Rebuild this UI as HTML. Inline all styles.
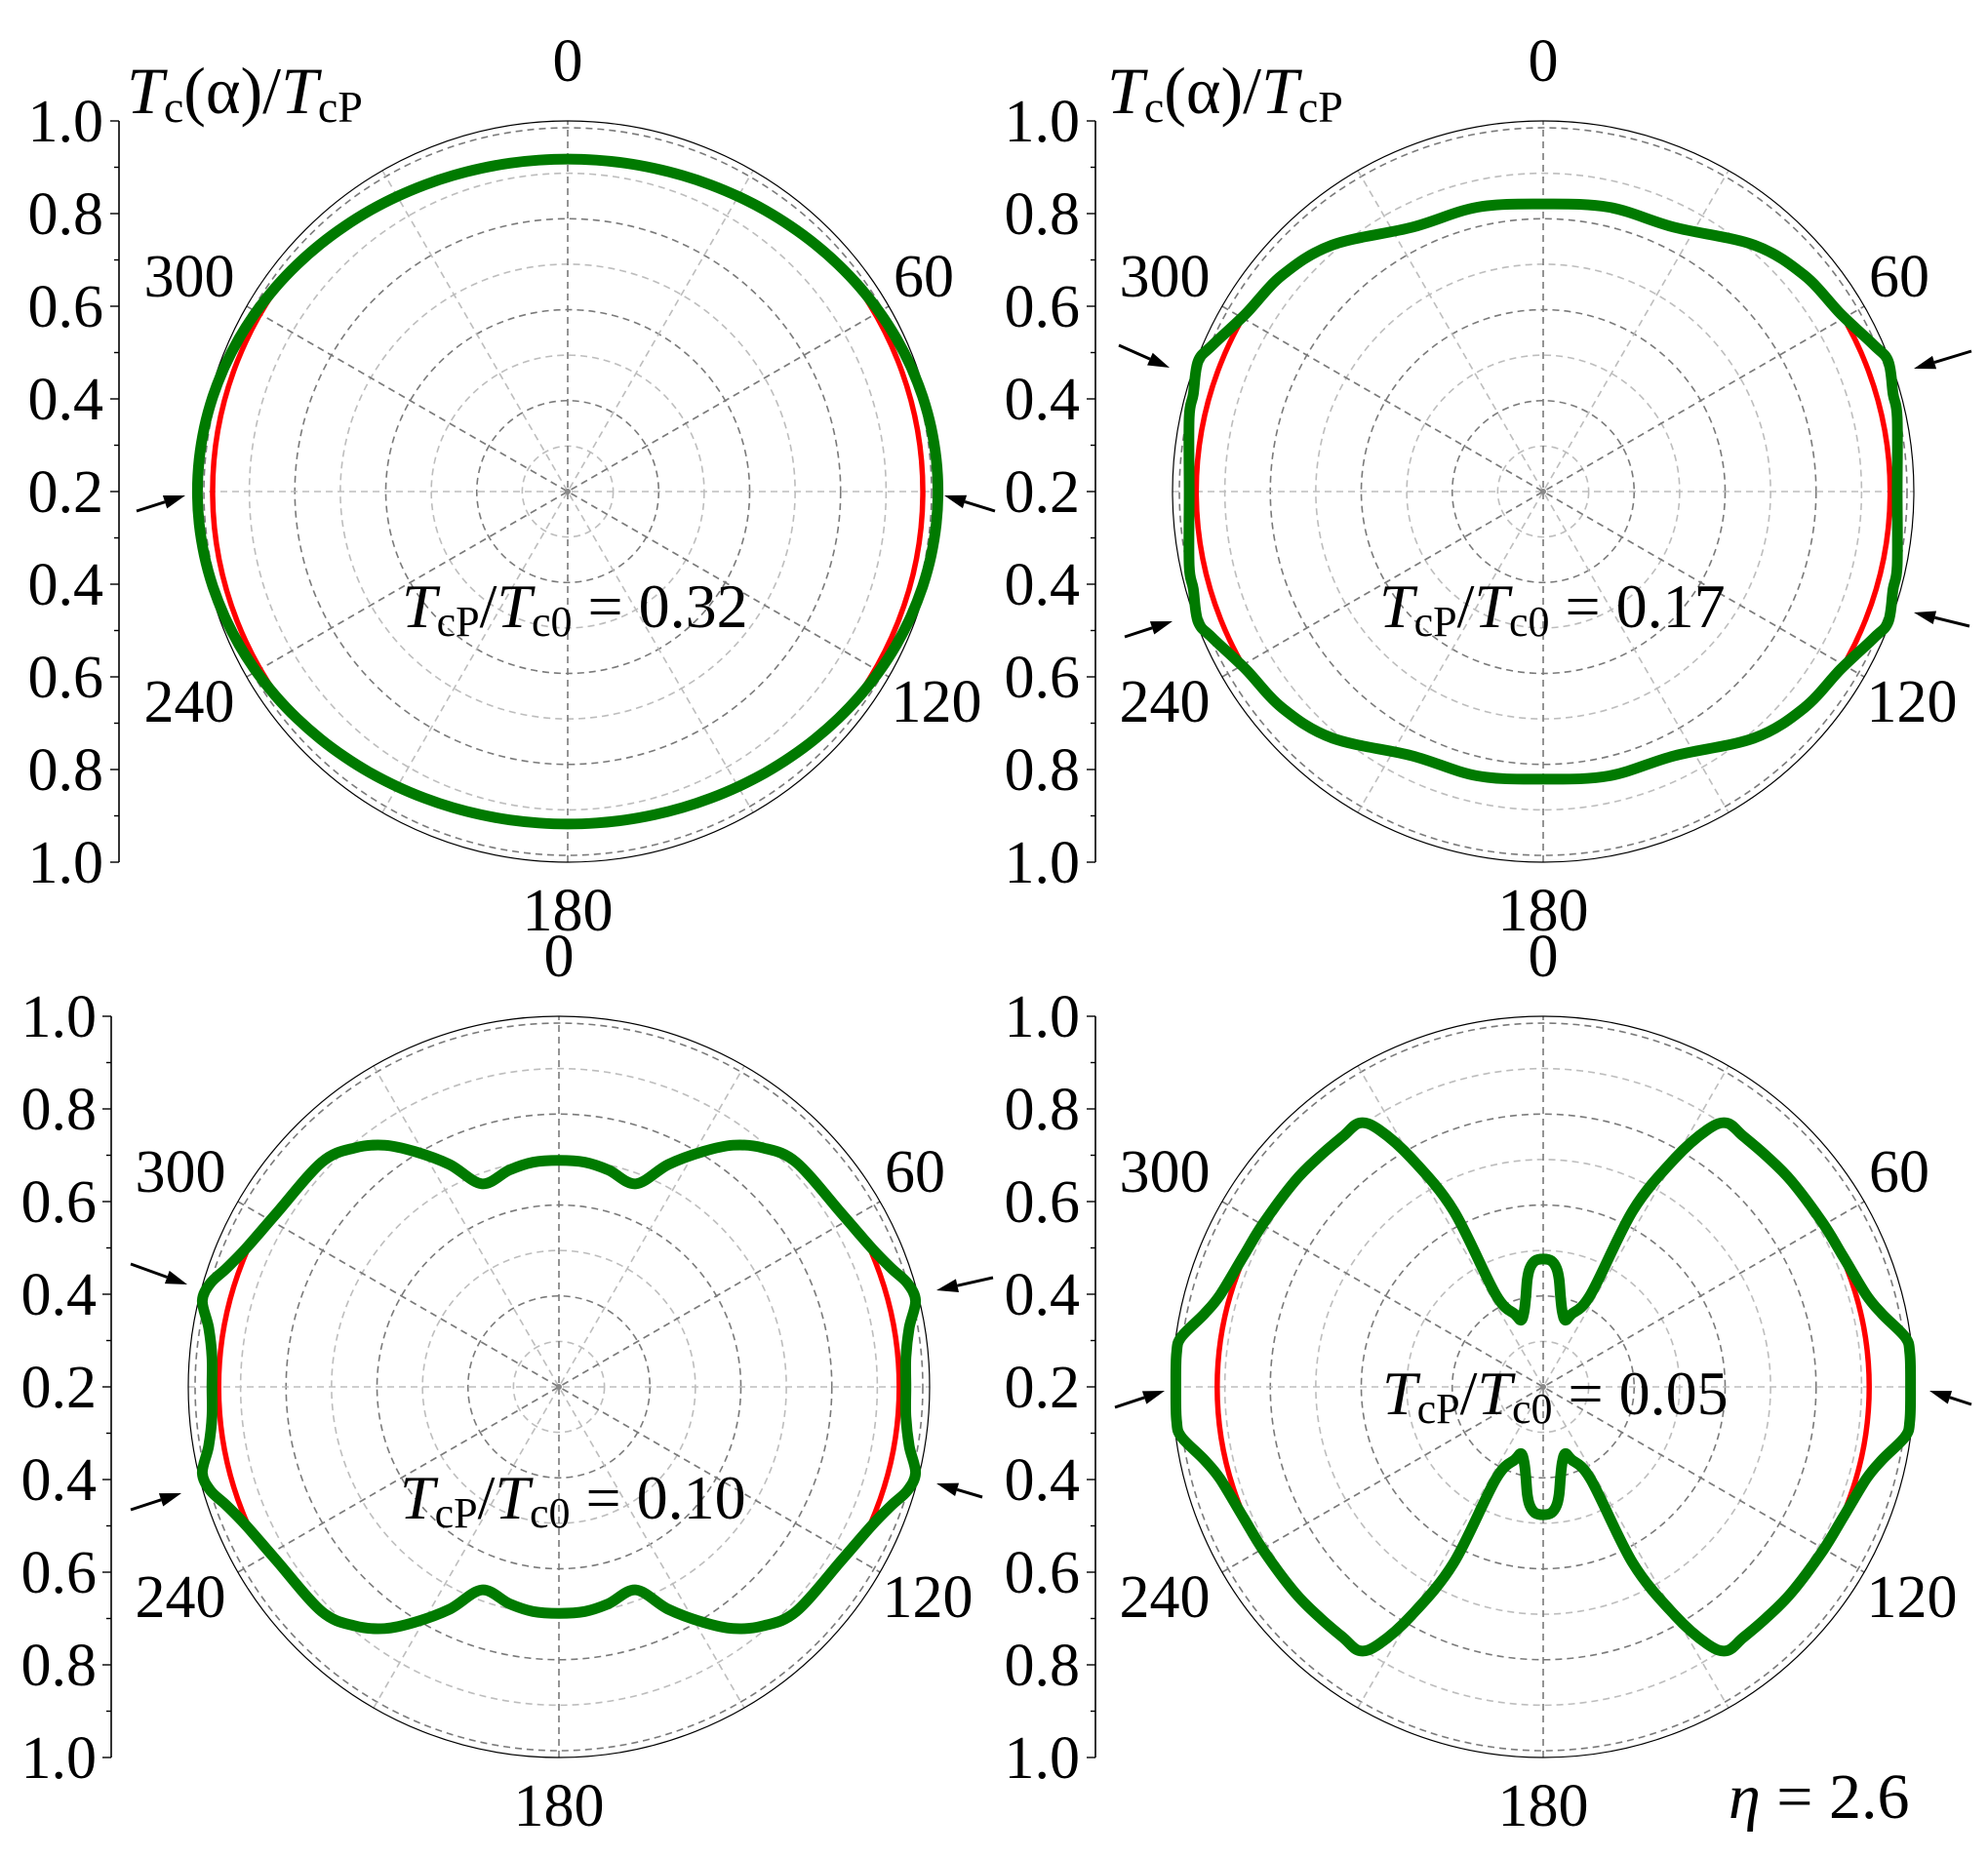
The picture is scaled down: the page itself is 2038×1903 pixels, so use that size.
<!DOCTYPE html>
<html><head><meta charset="utf-8"><style>
html,body{margin:0;padding:0;background:#fff;}
svg{display:block;}
text,tspan{font-family:"Liberation Serif","DejaVu Serif",serif;fill:#000;}
</style></head><body>
<svg id="s" width="2038" height="1903" viewBox="0 0 2038 1903" xmlns="http://www.w3.org/2000/svg" font-family="'Liberation Serif', 'DejaVu Serif', serif">
<defs></defs>
</svg>
<script>
var NS="http://www.w3.org/2000/svg";
var FF="'Liberation Serif', 'DejaVu Serif', serif";
var svg=document.getElementById('s');
function el(t,a,p){var e=document.createElementNS(NS,t);for(var k in a)e.setAttribute(k,a[k]);if(t=='text')e.setAttribute('font-family',FF);(p||svg).appendChild(e);return e;}
var R=380, Rg=373;
var q1=[];for(var a=0;a<=90;a+=5){var th=a*Math.PI/180;var r=1/Math.sqrt(Math.cos(th)*Math.cos(th)/(0.897*0.897)+Math.sin(th)*Math.sin(th)/(0.999*0.999));q1.push([r*Math.sin(th),r*Math.cos(th)]);}
q1[q1.length-1][0]=0.999;q1[q1.length-1][1]=0;
var panels=[
 {cx:582,cy:504,ax:122,lx:106,red:0.958,ann:"0.32",annx:412,anny:643,
  q:q1,
  arrows:[[140,524,190,508],[1020,524,968,508]]},
 {cx:1582,cy:504,ax:1123,lx:1107,red:0.936,ann:"0.17",annx:1414,anny:643,
  q:[[0,0.776],[0.178,0.767],[0.354,0.713],[0.5695,0.665],[0.704,0.584],[0.803,0.479],[0.892,0.395],[0.931,0.351],[0.944,0.263],[0.955,0.2],[0.955,0]],
  arrows:[[1147,354,1199,377],[1153,653,1202,637],[2021,360,1962,378],[2019,642,1962,628]]},
 {cx:573,cy:1422,ax:114,lx:99,red:0.918,ann:"0.10",annx:410,anny:1557,
  q:[[0,0.611],[0.07,0.606],[0.134,0.585],[0.208,0.548],[0.295,0.6],[0.389,0.635],[0.47,0.652],[0.55,0.645],[0.64,0.606],[0.764,0.466],[0.845,0.373],[0.898,0.319],[0.94,0.28],[0.962,0.232],[0.945,0.16],[0.936,0.08],[0.936,0]],
  arrows:[[134,1296,192,1317],[134,1548,186,1531],[1018,1310,960,1323],[1007,1535,960,1521]]},
 {cx:1582,cy:1422,ax:1123,lx:1107,red:0.8795,ann:"0.05",annx:1417,anny:1450,
  q:[[0,0.345],[0.022,0.34],[0.036,0.32],[0.043,0.29],[0.047,0.24],[0.052,0.2],[0.06,0.18],[0.075,0.195],[0.128,0.249],[0.242,0.476],[0.355,0.616],[0.443,0.694],[0.495,0.712],[0.539,0.677],[0.6,0.625],[0.67,0.555],[0.755,0.441],[0.808,0.354],[0.871,0.249],[0.914,0.197],[0.976,0.135],[0.989,0.092],[0.991,0]],
  arrows:[[1143,1443,1194,1426],[2021,1440,1978,1426]]}
];
var labs=[["0",0,-442],["60",365,-221],["300",-388,-221],["120",378,215],["240",-388,215],["180",0,429]];
panels.forEach(function(P,pi){
 var g=el('g',{});
 el('line',{x1:P.ax,y1:P.cy-R,x2:P.ax,y2:P.cy+R,stroke:'#000','stroke-width':1.6},g);
 for(var i=0;i<=16;i++){var y=P.cy-R+i*R/8;var L=(i%2==0)?9:5;
  el('line',{x1:P.ax-L,y1:y,x2:P.ax,y2:y,stroke:'#000','stroke-width':1.4},g);}
 var vals=["1.0","0.8","0.6","0.4","0.2","0.4","0.6","0.8","1.0"];
 vals.forEach(function(v,k){var t=el('text',{x:P.lx,y:P.cy-R+k*R/4+21,'text-anchor':'end','font-size':62},g);t.textContent=v;});
 for(var k=1;k<=8;k++){el('circle',{cx:P.cx,cy:P.cy,r:Rg*k/8,fill:'none',stroke:(k%2)?'#bdbdbd':'#7a7a7a','stroke-width':1.6,'stroke-dasharray':'7 5'},g);}
 for(var a=0;a<180;a+=30){var th=a*Math.PI/180;var dx=Math.sin(th)*R,dy=-Math.cos(th)*R;
  el('line',{x1:P.cx-dx,y1:P.cy-dy,x2:P.cx+dx,y2:P.cy+dy,stroke:(a%60==0)?'#7a7a7a':'#bdbdbd','stroke-width':1.6,'stroke-dasharray':'7 5'},g);}
 el('circle',{cx:P.cx,cy:P.cy,r:R,fill:'none',stroke:'#000','stroke-width':1.2},g);
 el('circle',{cx:P.cx,cy:P.cy,r:3,fill:'#888'},g);
 var q=P.q, pts=[];
 q.forEach(function(p){pts.push([p[0],p[1]]);});
 for(var i=q.length-2;i>=0;i--)pts.push([q[i][0],-q[i][1]]);
 for(var i=1;i<q.length;i++)pts.push([-q[i][0],-q[i][1]]);
 for(var i=q.length-2;i>0;i--)pts.push([-q[i][0],q[i][1]]);
 var sp=pts.map(function(p){return [P.cx+p[0]*R,P.cy-p[1]*R];});
 var n=sp.length,d="M"+sp[0][0].toFixed(1)+","+sp[0][1].toFixed(1);
 for(var i=0;i<n;i++){var p0=sp[(i-1+n)%n],p1=sp[i],p2=sp[(i+1)%n],p3=sp[(i+2)%n];
  var c1=[p1[0]+(p2[0]-p0[0])/6,p1[1]+(p2[1]-p0[1])/6],c2=[p2[0]-(p3[0]-p1[0])/6,p2[1]-(p3[1]-p1[1])/6];
  d+=" C"+c1[0].toFixed(1)+","+c1[1].toFixed(1)+" "+c2[0].toFixed(1)+","+c2[1].toFixed(1)+" "+p2[0].toFixed(1)+","+p2[1].toFixed(1);}
 d+="Z";
 var cp=el('clipPath',{id:'cp'+pi},svg.querySelector('defs'));
 el('path',{d:d},cp);
 el('circle',{cx:P.cx,cy:P.cy,r:P.red*R,fill:'none',stroke:'#ff0000','stroke-width':5.5,'clip-path':'url(#cp'+pi+')'},g);
 el('path',{d:d,fill:'none',stroke:'#007a00','stroke-width':11,'stroke-linejoin':'round'},g);
 labs.forEach(function(l){var t=el('text',{x:P.cx+l[1],y:P.cy+l[2]+21,'text-anchor':'middle','font-size':62},g);t.textContent=l[0];});
 var t=el('text',{x:P.annx,y:P.anny,'font-size':64},g);
 t.innerHTML='<tspan font-style="italic">T</tspan><tspan font-size="44" dy="9">cP</tspan><tspan dy="-9">/</tspan><tspan font-style="italic">T</tspan><tspan font-size="44" dy="9">c0</tspan><tspan dy="-9"> = '+P.ann+'</tspan>';
 P.arrows.forEach(function(a){var x1=a[0],y1=a[1],x2=a[2],y2=a[3];var ang=Math.atan2(y2-y1,x2-x1);
  var bx=x2-22*Math.cos(ang),by=y2-22*Math.sin(ang);
  el('line',{x1:x1,y1:y1,x2:bx,y2:by,stroke:'#000','stroke-width':3},g);
  var px=-Math.sin(ang)*7,py=Math.cos(ang)*7;
  el('polygon',{points:x2+","+y2+" "+(bx+px)+","+(by+py)+" "+(bx-px)+","+(by-py),fill:'#000'},g);});
});
[130,1135].forEach(function(x){var t=el('text',{x:x,y:116,'font-size':68});
 t.innerHTML='<tspan font-style="italic">T</tspan><tspan font-size="46" dy="9">c</tspan><tspan dy="-9">(α)/</tspan><tspan font-style="italic">T</tspan><tspan font-size="46" dy="9">cP</tspan>';});
var e=el('text',{x:1772,y:1864,'font-size':66});
e.innerHTML='<tspan font-style="italic">η</tspan> = 2.6';
</script>
</body></html>
